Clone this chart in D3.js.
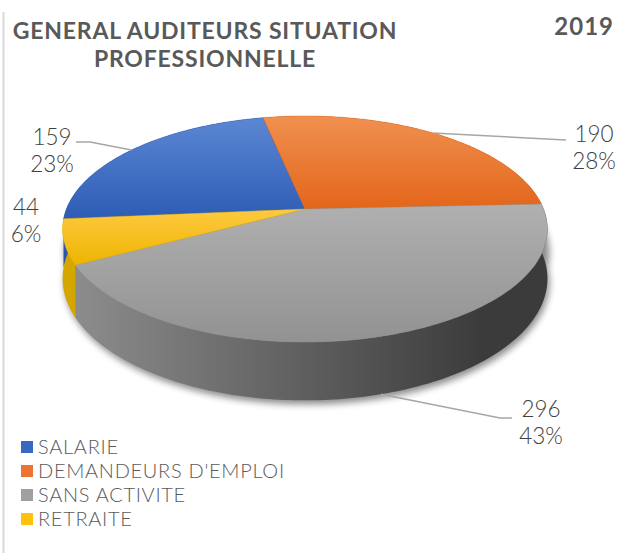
<!DOCTYPE html>
<html>
<head>
<meta charset="utf-8">
<script src="https://cdn.jsdelivr.net/npm/d3@7"></script>
<style>
  body { margin: 0; background: #fff; }
  svg { display: block; }
</style>
</head>
<body>
<svg id="chart"></svg>
<script>
// data
var categories = ["SALARIE", "DEMANDEURS D'EMPLOI", "SANS ACTIVITE", "RETRAITE"];
var values = [159, 190, 296, 44];
var title = ["GENERAL AUDITEURS SITUATION", "PROFESSIONNELLE"];
var year = "2019";

// styles
var topColors = [["#5b87d3", "#2d5cb5"], ["#f09050", "#e3661a"], ["#b0b0b0", "#929292"], ["#fdca40", "#eeb400"]];
var wallColors = [["#2a55a8", "#1f4690"], ["#c95a17", "#b34f12"], ["#8e8e8e", "#3b3b3b"], ["#d6a600", "#c29500"]];
var legendColors = ["#3a67c2", "#ed7430", "#a0a0a0", "#fcc20d"];

var width = 636, height = 558;
var cx = 305, cy = 209, A = 238.6, B = 109.5, p = 0.177, H = 48;
var deg = Math.PI / 180;

var svg = d3.select("#chart").attr("width", width).attr("height", height);
var defs = svg.append("defs");

var pie = d3.pie().sort(null).value(d => d)
    .startAngle(-95 * deg).endAngle(265 * deg);
var arcs = pie(values);
var total = d3.sum(values);
var pct = d3.format(".0%");

// perspective projection of a point on the disk (angle clockwise from north)
function proj(a, r, z) {
  var u = r * Math.sin(a), v = -r * Math.cos(a), s = 1 / (1 - p * v);
  return [cx + A * u * s, cy + B * v * s + z * H * s];
}
function arcPts(a0, a1, z) {
  var n = Math.max(8, Math.ceil(Math.abs(a1 - a0) / deg));
  return d3.range(n + 1).map(i => proj(a0 + (a1 - a0) * i / n, 1, z));
}
var line = d3.line();

// left frame line
svg.append("line")
    .attr("x1", 3.5).attr("x2", 3.5).attr("y1", 12).attr("y2", 553)
    .attr("stroke", "#d9d9d9").attr("stroke-width", 2);

// gradients
arcs.forEach(function(d, i) {
  var g = defs.append("linearGradient").attr("id", "top" + i)
      .attr("x1", 0).attr("y1", 0).attr("x2", 0).attr("y2", 1);
  g.append("stop").attr("offset", "0%").attr("stop-color", topColors[i][0]);
  g.append("stop").attr("offset", "100%").attr("stop-color", topColors[i][1]);
  var w = defs.append("linearGradient").attr("id", "wall" + i)
      .attr("gradientUnits", "userSpaceOnUse")
      .attr("x1", cx - A).attr("y1", 0).attr("x2", cx + A * 0.75).attr("y2", 0);
  w.append("stop").attr("offset", "0%").attr("stop-color", wallColors[i][0]);
  w.append("stop").attr("offset", "100%").attr("stop-color", wallColors[i][1]);
});

var blur = defs.append("filter").attr("id", "shadow")
    .attr("x", "-10%").attr("y", "-10%").attr("width", "120%").attr("height", "130%");
blur.append("feGaussianBlur").attr("stdDeviation", 3.5);

// shadow
var sh = svg.append("g").attr("filter", "url(#shadow)").attr("opacity", 0.45)
    .attr("transform", "translate(2,4)");
sh.append("path").attr("d", line(arcPts(0, 2 * Math.PI, 1)) + "Z").attr("fill", "#000");
sh.append("path").attr("d", line(arcPts(0, 2 * Math.PI, 0.4)) + "Z").attr("fill", "#000");

// walls (back first)
var order = d3.range(arcs.length).sort((a, b) =>
  -Math.cos((arcs[b].startAngle + arcs[b].endAngle) / 2) + Math.cos((arcs[a].startAngle + arcs[a].endAngle) / 2) < 0 ? -1 : 1);
svg.append("g").selectAll("path")
  .data(order)
  .enter().append("path")
    .attr("d", i => {
      var d = arcs[i];
      var pts = arcPts(d.startAngle, d.endAngle, 0)
        .concat(arcPts(d.endAngle, d.startAngle, 1));
      return line(pts) + "Z";
    })
    .attr("fill", i => "url(#wall" + i + ")");

// top faces
svg.append("g").selectAll("path")
  .data(arcs)
  .enter().append("path")
    .attr("d", d => line([proj(0, 0, 0)].concat(arcPts(d.startAngle, d.endAngle, 0))) + "Z")
    .attr("fill", (d, i) => "url(#top" + i + ")")
    .attr("stroke", (d, i) => topColors[i][1]).attr("stroke-width", 0.4);

// data labels with leaders
var labelPos = [[52, 145], [594, 142], [541, 417], [26, 215]];
var leaders = [
  function(d) { var s = proj((d.startAngle + d.endAngle) / 2, 1, 0); return [s, [90, 142], [76, 142]]; },
  function(d) { var s = proj((d.startAngle + d.endAngle) / 2, 1, 0); return [s, [566, 140]]; },
  function(d) { var s = proj((d.startAngle + d.endAngle) / 2, 1, 1); return [s, [500, 418], [512, 418]]; },
  null
];
arcs.forEach(function(d, i) {
  if (leaders[i]) {
    svg.append("path").attr("d", line(leaders[i](d)))
      .attr("fill", "none").attr("stroke", "#a6a6a6").attr("stroke-width", 1.5);
  }
  var t = svg.append("text")
      .attr("x", labelPos[i][0]).attr("y", labelPos[i][1])
      .attr("text-anchor", "middle")
      .attr("font-family", "Lato, sans-serif").attr("font-weight", 300)
      .attr("font-size", 22.5).attr("fill", "#404040");
  t.append("tspan").attr("x", labelPos[i][0]).text(d.data);
  t.append("tspan").attr("x", labelPos[i][0]).attr("dy", 27).text(pct(d.data / total));
});

// title
svg.append("g").selectAll("text")
  .data(title)
  .enter().append("text")
    .attr("x", 205).attr("y", (d, i) => 39 + i * 28)
    .attr("text-anchor", "middle")
    .attr("font-family", "Lato, sans-serif").attr("font-weight", 700)
    .attr("font-size", 23).attr("letter-spacing", 0.8).attr("fill", "#595959")
    .text(d => d);
svg.append("text")
    .attr("x", 614).attr("y", 35).attr("text-anchor", "end")
    .attr("font-family", "Lato, sans-serif").attr("font-weight", 700)
    .attr("font-size", 24).attr("letter-spacing", 1).attr("fill", "#595959")
    .text(year);

// legend
var legend = svg.append("g").selectAll("g")
  .data(categories)
  .enter().append("g")
    .attr("transform", (d, i) => "translate(21," + (441 + i * 24) + ")");
legend.append("rect").attr("width", 12).attr("height", 12)
    .attr("fill", (d, i) => legendColors[i]);
legend.append("text").attr("x", 17).attr("y", 12.5)
    .attr("font-family", "Lato, sans-serif").attr("font-weight", 300)
    .attr("font-size", 20).attr("letter-spacing", 0.7).attr("fill", "#595959")
    .text(d => d);
</script>
</body>
</html>
